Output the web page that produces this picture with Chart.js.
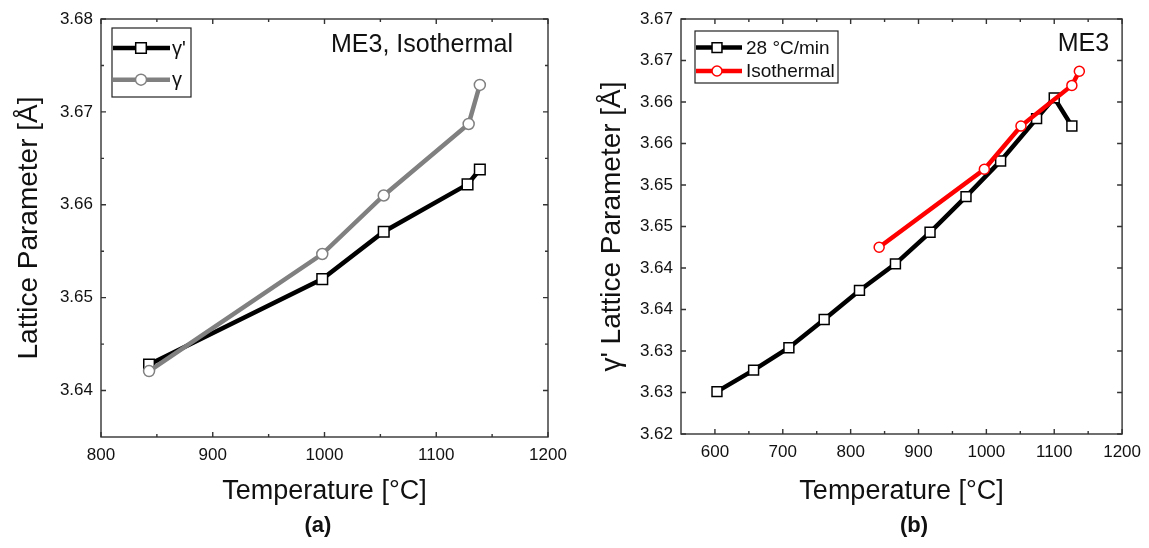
<!DOCTYPE html>
<html>
<head>
<meta charset="utf-8">
<script src="https://cdn.jsdelivr.net/npm/chart.js@4.4.1/dist/chart.umd.min.js"></script>
<style>
  body { margin: 0; background: #fff; }
  #page { position: relative; width: 1149px; height: 548px; font-family: 'Liberation Sans', Arial, sans-serif; }
  .panel { position: absolute; top: 0; height: 548px; }
  .tag { position: absolute; top: 512px; width: 100px; text-align: center; font-weight: bold; font-size: 22px; line-height: 26px; color: #111; }
</style>
</head>
<body>
<div id="page">
  <div class="panel" style="left:0; width:575px;"><canvas id="chartA"></canvas></div>
  <div class="panel" style="left:575px; width:574px;"><canvas id="chartB"></canvas></div>
  <div class="tag" style="left:268px;">(a)</div>
  <div class="tag" style="left:864px;">(b)</div>
</div>
<script>
// panel (a): ME3 isothermal, gamma' and gamma
const tempGpA = [843, 998, 1053, 1128, 1139];
const latGpA = [3.6428, 3.6520, 3.6571, 3.6622, 3.6638];
const tempGA = [843, 998, 1053, 1129, 1139];
const latGA = [3.6421, 3.6547, 3.6610, 3.6687, 3.6729];

// panel (b): gamma' lattice parameter, ramp vs isothermal
const tempRamp = [603, 657, 709, 761, 813, 866, 917, 970, 1021, 1074, 1100, 1126];
const latRamp = [3.6251, 3.6277, 3.6304, 3.6338, 3.6373, 3.6405, 3.6443, 3.6486, 3.6529, 3.6580, 3.6605, 3.6571];
const tempIso = [842, 997, 1051, 1126, 1137];
const latIso = [3.6425, 3.6519, 3.6571, 3.6620, 3.6637];

// ticks
const xTicksA = [800, 900, 1000, 1100, 1200];
const xMinorA = [850, 950, 1050, 1150];
const yTicksA = [3.64, 3.65, 3.66, 3.67, 3.68];
const yMinorA = [3.645, 3.655, 3.665, 3.675];
const xTicksB = [600, 700, 800, 900, 1000, 1100, 1200];
const xMinorB = [650, 750, 850, 950, 1050, 1150];
const yTicksB = [3.620, 3.625, 3.630, 3.635, 3.640, 3.645, 3.650, 3.655, 3.660, 3.665, 3.670];
const yLabelsB = ['3.62', '3.63', '3.63', '3.64', '3.64', '3.65', '3.65', '3.66', '3.66', '3.67', '3.67'];

const FONT = "'Liberation Sans', Arial, sans-serif";
const toPoints = (xs, ys) => xs.map((x, i) => ({ x: x, y: ys[i] }));

// box frame with inward ticks on all four sides
const framePlugin = {
  id: 'frame',
  afterDatasetsDraw(chart, args, opts) {
    const { ctx, chartArea: a } = chart;
    const sx = chart.scales.x, sy = chart.scales.y;
    ctx.save();
    ctx.strokeStyle = '#333';
    ctx.lineWidth = 1.4;
    ctx.strokeRect(a.left, a.top, a.right - a.left, a.bottom - a.top);
    ctx.beginPath();
    const xMarks = (vals, len) => vals.forEach(v => {
      const p = sx.getPixelForValue(v);
      ctx.moveTo(p, a.bottom); ctx.lineTo(p, a.bottom - len);
      ctx.moveTo(p, a.top); ctx.lineTo(p, a.top + len);
    });
    const yMarks = (vals, len) => vals.forEach(v => {
      const p = sy.getPixelForValue(v);
      ctx.moveTo(a.left, p); ctx.lineTo(a.left + len, p);
      ctx.moveTo(a.right, p); ctx.lineTo(a.right - len, p);
    });
    xMarks(opts.xMajor, 5); xMarks(opts.xMinor, 3);
    yMarks(opts.yMajor, 5); yMarks(opts.yMinor, 3);
    ctx.stroke();
    ctx.restore();
  }
};

// legend box drawn inside the plot, line + marker like the original
const boxLegend = {
  id: 'boxLegend',
  afterDraw(chart, args, o) {
    const { ctx, chartArea: a } = chart;
    const bx = a.left + o.left, by = a.top + o.top;
    ctx.save();
    ctx.strokeStyle = '#222';
    ctx.lineWidth = 1.2;
    ctx.strokeRect(bx, by, o.width, o.height);
    chart.data.datasets.forEach((ds, i) => {
      const ry = by + o.firstRow + i * o.rowGap;
      ctx.strokeStyle = ds.borderColor;
      ctx.lineWidth = ds.borderWidth;
      ctx.beginPath();
      ctx.moveTo(bx + 1, ry);
      ctx.lineTo(bx + 1 + o.lineLen, ry);
      ctx.stroke();
      ctx.fillStyle = '#fff';
      ctx.strokeStyle = ds.pointBorderColor;
      ctx.lineWidth = ds.pointBorderWidth;
      Chart.helpers.drawPoint(ctx, { pointStyle: ds.pointStyle, radius: ds.pointRadius, borderWidth: ds.pointBorderWidth, rotation: 0 }, bx + o.markX, ry);
      ctx.fillStyle = '#111';
      ctx.font = o.font;
      ctx.textBaseline = 'middle';
      ctx.textAlign = 'left';
      ctx.fillText(ds.label, bx + o.textX, ry + 1);
    });
    ctx.restore();
  }
};

// sample label in the upper right corner
const cornerNote = {
  id: 'cornerNote',
  afterDraw(chart, args, o) {
    const { ctx, chartArea: a } = chart;
    ctx.save();
    ctx.fillStyle = '#111';
    ctx.font = o.font;
    ctx.textAlign = 'right';
    ctx.textBaseline = 'middle';
    ctx.fillText(o.text, a.right - o.right, a.top + o.top);
    ctx.restore();
  }
};

function series(label, xs, ys, color, style, radius, order) {
  return {
    label: label,
    data: toPoints(xs, ys),
    borderColor: color,
    borderWidth: 4.5,
    pointStyle: style,
    pointRadius: radius,
    pointBackgroundColor: '#fff',
    pointBorderColor: color,
    pointBorderWidth: 1.5,
    tension: 0,
    order: order
  };
}

function makeChart(id, cfg) {
  return new Chart(document.getElementById(id), {
    type: 'line',
    data: { datasets: cfg.datasets },
    options: {
      responsive: true,
      maintainAspectRatio: false,
      animation: false,
      layout: { padding: { left: 0, top: 19, right: cfg.padRight, bottom: 0 } },
      plugins: {
        legend: { display: false },
        tooltip: { enabled: false },
        frame: { xMajor: cfg.xTicks, xMinor: cfg.xMinor, yMajor: cfg.yTicks, yMinor: cfg.yMinor },
        boxLegend: cfg.legend,
        cornerNote: cfg.note
      },
      scales: {
        x: {
          type: 'linear',
          min: cfg.xMin, max: cfg.xMax,
          afterBuildTicks: s => { s.ticks = cfg.xTicks.map(v => ({ value: v })); },
          afterFit: s => { s.height = cfg.xHeight; },
          grid: { display: false, drawTicks: false },
          border: { display: false },
          ticks: { padding: 8, color: '#111', font: { family: FONT, size: 17 }, maxRotation: 0, callback: v => String(v) },
          title: { display: true, text: 'Temperature [°C]', color: '#111', font: { family: FONT, size: 27 }, padding: { top: 0, bottom: 40 } }
        },
        y: {
          type: 'linear',
          min: cfg.yMin, max: cfg.yMax,
          afterBuildTicks: s => { s.ticks = cfg.yTicks.map(v => ({ value: v })); },
          afterFit: s => { s.width = cfg.yWidth; },
          grid: { display: false, drawTicks: false },
          border: { display: false },
          ticks: { padding: 8, color: '#111', font: { family: FONT, size: 17 }, callback: cfg.yLabel },
          title: { display: true, text: cfg.yTitle, color: '#111', font: { family: FONT, size: 28 }, padding: { top: cfg.yTitlePad, bottom: 0 } }
        }
      }
    },
    plugins: [framePlugin, boxLegend, cornerNote]
  });
}

makeChart('chartA', {
  datasets: [
    series("γ'", tempGpA, latGpA, '#000', 'rect', 7.5, 1),
    series('γ', tempGA, latGA, '#808080', 'circle', 5.5, 0)
  ],
  xMin: 800, xMax: 1200, yMin: 3.635, yMax: 3.68,
  xTicks: xTicksA, xMinor: xMinorA, yTicks: yTicksA, yMinor: yMinorA,
  yLabel: v => v.toFixed(2),
  yTitle: 'Lattice Parameter [Å]', yTitlePad: 12,
  padRight: 27, xHeight: 111, yWidth: 101,
  legend: { left: 11, top: 9, width: 79, height: 69, firstRow: 20, rowGap: 31.7, lineLen: 57, markX: 29, textX: 60, font: '20px ' + FONT },
  note: { text: 'ME3, Isothermal', font: '25px ' + FONT, right: 35, top: 26 }
});

makeChart('chartB', {
  datasets: [
    series('28 °C/min', tempRamp, latRamp, '#000', 'rect', 7, 1),
    series('Isothermal', tempIso, latIso, '#ff0000', 'circle', 5, 0)
  ],
  xMin: 550, xMax: 1200, yMin: 3.62, yMax: 3.67,
  xTicks: xTicksB, xMinor: xMinorB, yTicks: yTicksB, yMinor: [],
  yLabel: (v, i) => yLabelsB[i],
  yTitle: "γ' Lattice Parameter [Å]", yTitlePad: 20,
  padRight: 25, xHeight: 114, yWidth: 106,
  legend: { left: 14, top: 12, width: 143, height: 52, firstRow: 16.6, rowGap: 23.4, lineLen: 46, markX: 22, textX: 51, font: '19px ' + FONT },
  note: { text: 'ME3', font: '25px ' + FONT, right: 13, top: 25 }
});
</script>
</body>
</html>
